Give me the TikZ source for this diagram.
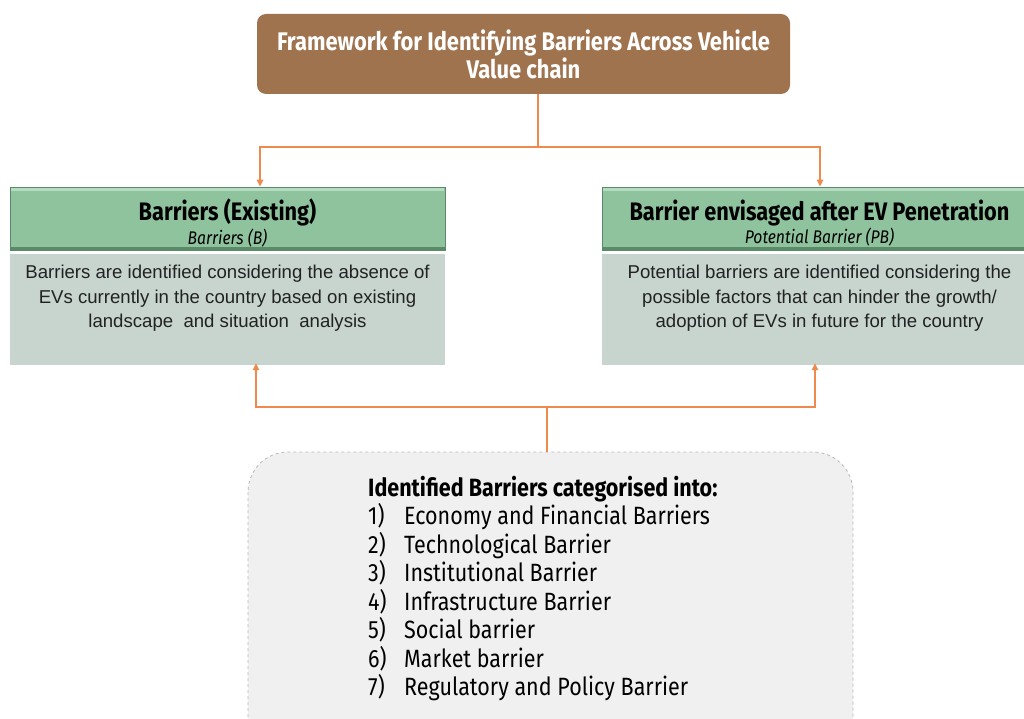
\documentclass[tikz,border=0pt]{standalone}
\usepackage{fontspec}
\setmainfont{Liberation Sans}
\newfontfamily\fira[FakeStretch=0.86]{Fira Sans}
\usetikzlibrary{arrows.meta,calc}
\definecolor{brownbox}{HTML}{A0734F}
\definecolor{orangeline}{HTML}{EE8A4E}
\definecolor{greenhead}{HTML}{8EC39E}
\definecolor{greendark}{HTML}{5B8A68}
\definecolor{greenlight}{HTML}{B5DBC0}
\definecolor{bodyfill}{HTML}{C7D5CE}
\definecolor{listfill}{HTML}{F0F0F0}
\definecolor{listborder}{HTML}{B8B8B8}
\definecolor{txt}{HTML}{222222}
\newcommand{\itemnum}[1]{\makebox[36pt][l]{#1}}
\tikzset{
  conn/.style={draw=orangeline, line width=1.4pt},
  arr/.style={conn, -{Triangle[length=7pt,width=6.5pt]}},
  topbox/.style={fill=brownbox, rounded corners=9pt, minimum width=533pt, minimum height=80pt, text=white, align=center, font=\fira\bfseries\fontsize{25.5}{28}\selectfont},
  headbox/.style={fill=greenhead, draw=greendark, line width=0.8pt, minimum width=435pt, minimum height=63pt, align=center, text=black},
  bodybox/.style={fill=bodyfill, minimum width=435pt, minimum height=111pt},
  bodytext/.style={align=center, text=txt, font=\fontsize{18.6}{24.5}\selectfont, inner sep=0pt},
  listbox/.style={fill=listfill, draw=listborder, dashed, line width=0.8pt, rounded corners=40pt},
}
\begin{document}
\begin{tikzpicture}[x=1pt,y=-1pt]
\useasboundingbox (0,0) rectangle (1024,719);
\begin{scope}
\clip (0,0) rectangle (1024,719);
% top box
\node[topbox] (top) at (523.5,54) {Framework for Identifying Barriers Across Vehicle\\Value chain};
% headers
\node[headbox] (lhead) at (227.5,218.5) {};
\node[headbox] (rhead) at (819.5,218.5) {};
\fill[greenlight] ([xshift=1pt,yshift=-1pt]lhead.north west) rectangle ([xshift=-1pt,yshift=-4pt]lhead.north east);
\fill[greenlight] ([xshift=1pt,yshift=-1pt]rhead.north west) rectangle ([xshift=-1pt,yshift=-4pt]rhead.north east);
\fill[greendark] (lhead.south west) rectangle ([yshift=3pt]lhead.south east);
\fill[greendark] (rhead.south west) rectangle ([yshift=3pt]rhead.south east);
\node[align=center, inner sep=0pt] (lheadt) at (227.5,223) {{\fira\bfseries\fontsize{25.3}{27}\selectfont Barriers (Existing)}\\[1pt]{\fira\itshape\fontsize{18.3}{20}\selectfont Barriers (B)}};
\node[align=center, inner sep=0pt] (rheadt) at (819.5,223) {{\fira\bfseries\fontsize{25.3}{27}\selectfont Barrier envisaged after EV Penetration}\\[1pt]{\fira\itshape\fontsize{18.3}{20}\selectfont Potential Barrier (PB)}};
% bodies
\node[bodybox] (lbody) at (227.5,309.5) {};
\node[bodybox] (rbody) at (819.5,309.5) {};
\node[bodytext, anchor=north] (lbodyt) at (227.5,265) {Barriers are identified considering the absence of\\EVs currently in the country based on existing\\landscape\ \ and situation\ \ analysis};
\node[bodytext, anchor=north] (rbodyt) at (819.5,265) {Potential barriers are identified considering the\\possible factors that can hinder the growth/\\adoption of EVs in future for the country};
% list box
\draw[listbox] (248,452) rectangle (853,760);
\node[coordinate] (listtop) at (547,452) {};
\node[anchor=north west, align=left, inner sep=0pt, text=black, font=\fira\fontsize{25}{28.5}\selectfont] (list) at (368,476) {%
{\bfseries Identified Barriers categorised into:}\\
\itemnum{1)}Economy and Financial Barriers\\
\itemnum{2)}Technological Barrier\\
\itemnum{3)}Institutional Barrier\\
\itemnum{4)}Infrastructure Barrier\\
\itemnum{5)}Social barrier\\
\itemnum{6)}Market barrier\\
\itemnum{7)}Regulatory and Policy Barrier};
\end{scope}
% connectors top
\coordinate (j1) at (538,147);
\coordinate (la) at (260,147);
\coordinate (ra) at (820,147);
\draw[conn] (top.south -| j1) -- (j1);
\draw[arr] (j1) -| (lhead.north -| la);
\draw[arr] (j1) -| (rhead.north -| ra);
% connectors bottom
\coordinate (j2) at (547,407);
\coordinate (lb) at (256,407);
\coordinate (rb) at (815,407);
\draw[conn] (listtop) -- (j2);
\draw[arr] (j2) -| ([yshift=2pt]lbody.south -| lb);
\draw[arr] (j2) -| ([yshift=2pt]rbody.south -| rb);
\end{tikzpicture}
\end{document}
